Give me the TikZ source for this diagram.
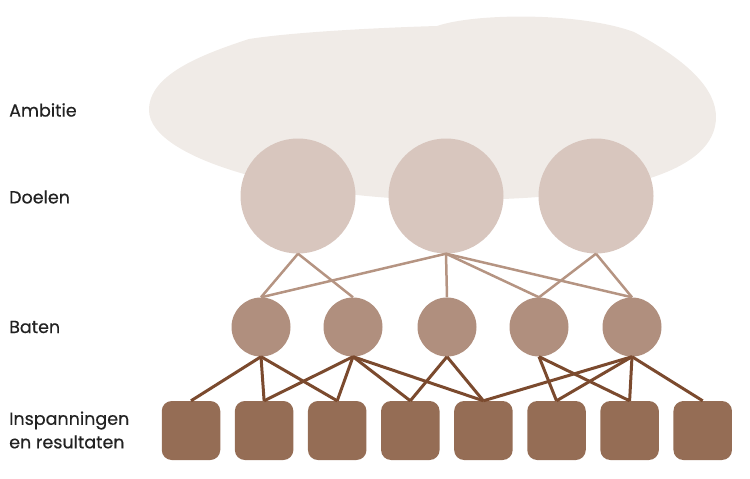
\documentclass[tikz,border=0pt]{standalone}
\usepackage{fontspec}
\setmainfont{Poppins}[FakeBold=0.5]
\usepackage{tikz}

\definecolor{ambitiekleur}{HTML}{F0EBE7}
\definecolor{doelkleur}{HTML}{D8C6BE}
\definecolor{baatkleur}{HTML}{B08F7E}
\definecolor{inspanningkleur}{HTML}{956D55}
\definecolor{doellijnkleur}{HTML}{B59482}
\definecolor{baatlijnkleur}{HTML}{7B4A2E}
\definecolor{tekstkleur}{HTML}{222222}

\begin{document}
\begin{tikzpicture}[x=1pt,y=-1pt,
    doel/.style={circle,fill=doelkleur,minimum size=115pt,inner sep=0pt},
    baat/.style={circle,fill=baatkleur,minimum size=59pt,inner sep=0pt},
    inspanning/.style={rectangle,rounded corners=10pt,fill=inspanningkleur,minimum width=58.5pt,minimum height=59pt,inner sep=0pt},
    doellijn/.style={draw=doellijnkleur,line width=2.5pt},
    baatlijn/.style={draw=baatlijnkleur,line width=3pt},
    niveau/.style={anchor=west,text=tekstkleur,align=left,font=\fontsize{17.5}{23.5}\selectfont,inner sep=0pt}]
        \useasboundingbox (0,0) rectangle (750,479);
        % ambitie
        \fill[ambitiekleur] (149,110) .. controls (149,75) and (200,55) .. (249,39)
            .. controls (300,31) and (400,27) .. (437,26)
            .. controls (475,13) and (580,12) .. (634,32)
            .. controls (690,62) and (716,90) .. (716,117)
            .. controls (716,172) and (620,200) .. (450,200)
            .. controls (300,200) and (149,160) .. (149,110);
        % doelen, baten, inspanningen
        \foreach \x [count=\i] in {298,446,596} {%
            \node[doel] (d\i) at (\x,196) {};
        }
        \foreach \x [count=\i] in {261,353,447,539,632} {%
            \node[baat] (b\i) at (\x,327) {};
        }
        \foreach \i in {1,...,8} {%
            \node[inspanning] (s\i) at ({191+73.1*(\i-1)},430.5) {};
        }
        \foreach \a/\b in {1/1,1/2,2/1,2/3,2/4,2/5,3/4,3/5} {%
            \draw[doellijn] (d\a.south) -- (b\b.north);
        }
        \foreach \a/\b in {1/1,1/2,1/3,2/2,2/3,2/4,2/5,3/4,3/5,4/6,4/7,5/5,5/6,5/7,5/8} {%
            \draw[baatlijn] (b\a.south) -- (s\b.north);
        }
        % niveaus
        \node[niveau] (ambitie) at (9,110) {Ambitie};
        \node[niveau] (doelen) at (9,197) {Doelen};
        \node[niveau] (baten) at (9,327) {Baten};
        \node[niveau] (inspanningen) at (9,430) {Inspanningen\\en resultaten};
    \end{tikzpicture}
\end{document}
